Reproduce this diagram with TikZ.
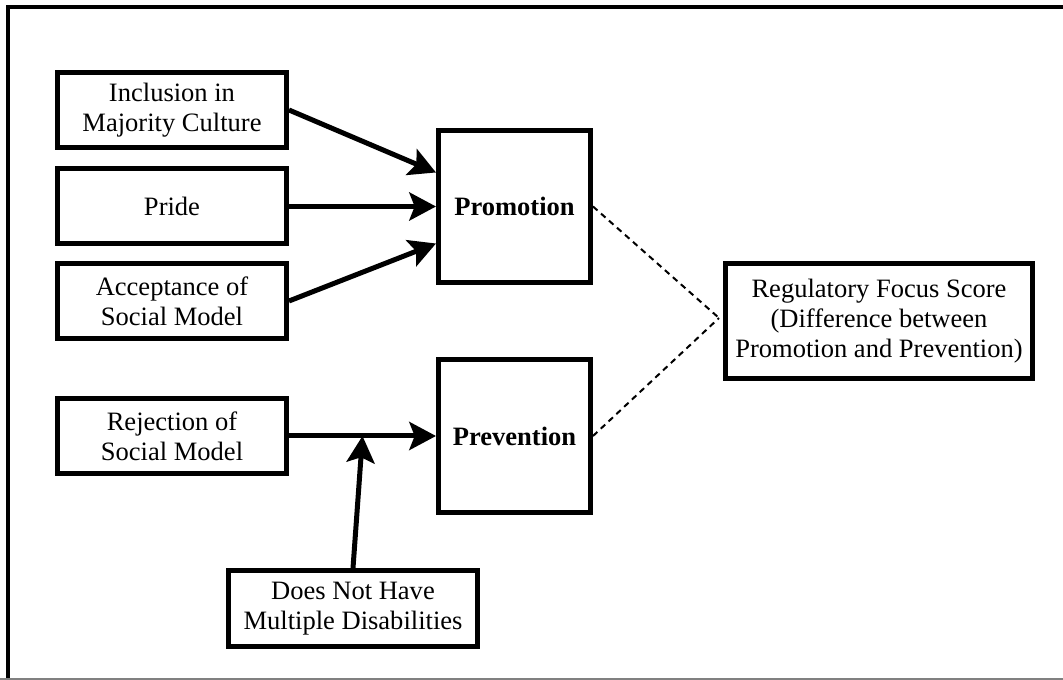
\documentclass[tikz,border=0pt]{standalone}
\usepackage{fontspec}
\setmainfont{Liberation Serif}
\usepackage{tikz}
\usetikzlibrary{arrows.meta, positioning, calc}

\begin{document}
\begin{tikzpicture}[x=0.75pt, y=-0.75pt,
  factorbox/.style={draw, line width=3.75pt, minimum width=171.75pt, minimum height=56.25pt,
    inner sep=0pt, align=center, font=\fontsize{19.9}{22.5}\selectfont},
  focusbox/.style={factorbox, minimum width=114pt, minimum height=114pt},
  effect/.style={line width=3.75pt, -{Stealth[length=20pt, width=21pt, inset=4pt]}},
  link/.style={line width=1.5pt, dash pattern=on 4.5pt off 3.5pt}]

  % Page frame (cut at right and bottom)
  \clip (0,0) rectangle (1063,680);
  \fill[white] (0,0) rectangle (1063,680);
  \draw[line width=3pt] (1075,7.5) -| (8,690);
  \draw[gray, line width=1.5pt] (0,679) -- (1063,679);

  % Predictors (LEFT)
  \node[factorbox] (incl) at (172,110) {Inclusion in\\Majority Culture};
  \node[factorbox] (pride) at (172,206.5) {Pride};
  \node[factorbox] (accept) at (172,301) {Acceptance of\\Social Model};
  \node[factorbox] (reject) at (172,436) {Rejection of\\Social Model};

  % Focus boxes (MIDDLE)
  \node[focusbox] (prom) at (514.5,206.5) {\textbf{Promotion}};
  \node[focusbox] (prev) at (514.5,436) {\textbf{Prevention}};

  % Moderator (BOTTOM)
  \node[factorbox, minimum width=186.75pt, minimum height=57pt] (multi) at (353,608.5)
    {Does Not Have\\Multiple Disabilities};

  % Outcome (RIGHT)
  \node[factorbox, minimum width=230.25pt, minimum height=86.25pt] (score) at (879,321)
    {Regulatory Focus Score\\(Difference between\\Promotion and Prevention)};

  % Effects
  \draw[effect] (incl.east) -- ($(prom.west)+(0,-34)$);
  \draw[effect] (pride.east) -- (prom.west);
  \draw[effect] (accept.east) -- ($(prom.west)+(0,37)$);
  \draw[effect] (reject.east) -- (prev.west);
  \coordinate (mod) at ($(reject.east)!0.5!(prev.west)$);
  \draw[effect] (multi.north) -- (mod);

  % Difference score
  \coordinate (meet) at ($(score.west)+(-4,-3)$);
  \draw[link] (prom.east) -- (meet);
  \draw[link] (prev.east) -- (meet);
\end{tikzpicture}
\end{document}
